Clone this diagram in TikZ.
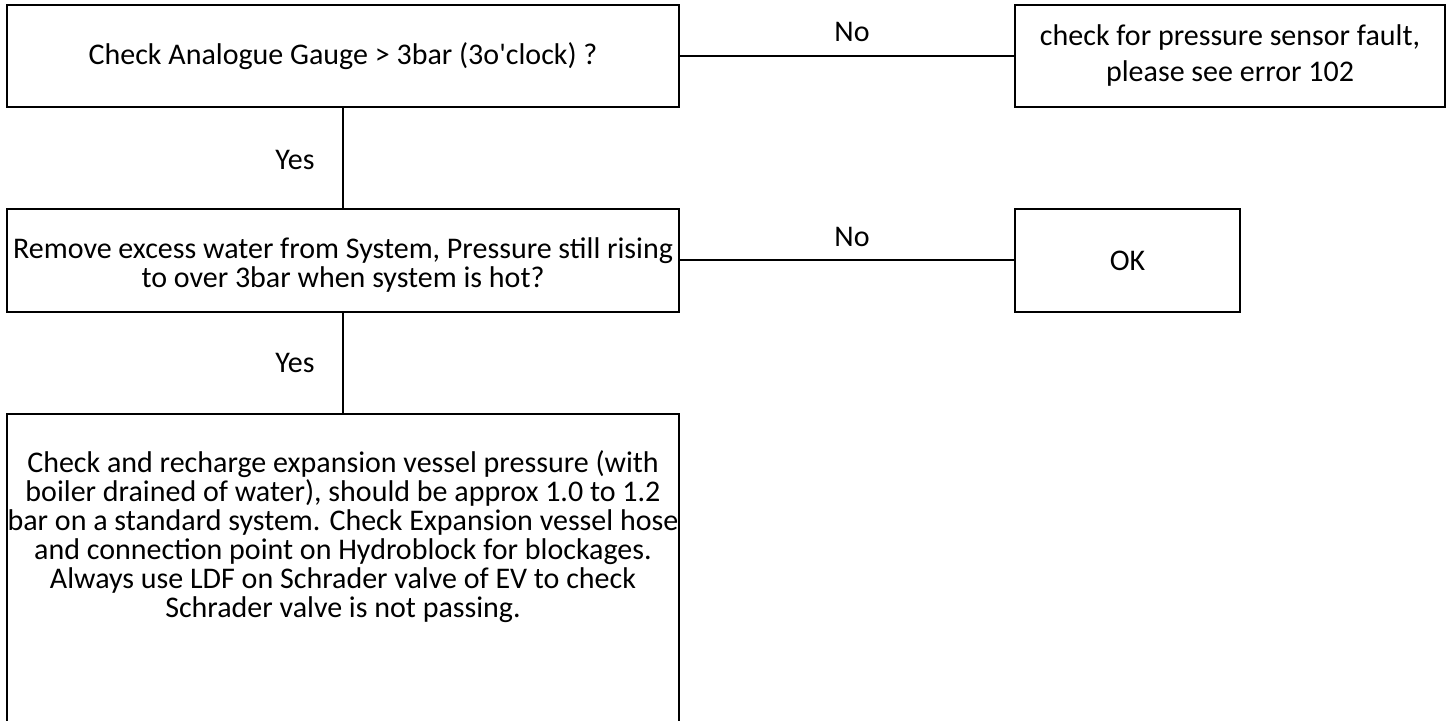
\documentclass[tikz,border=0pt]{standalone}
\usepackage{fontspec}
\setmainfont{Carlito}
\begin{document}
\begin{tikzpicture}[x=1pt,y=1pt,
  box/.style={draw=black, line width=2pt, inner sep=0pt, align=center, font=\fontsize{30}{29}\selectfont},
  conn/.style={draw=black, line width=2pt},
  lbl/.style={font=\fontsize{30}{29}\selectfont, inner sep=0pt, align=center}]
\useasboundingbox (0,0) rectangle (1447,720);
\node[box, minimum width=672, minimum height=102] (A) at (343,664) {Check Analogue Gauge > 3bar (3o\textquotesingle clock) ?};
\node[box, minimum width=430, minimum height=102, font=\fontsize{30}{36}\selectfont] (B) at (1230,664) {check for pressure sensor fault,\\please see error 102};
\node[box, minimum width=672, minimum height=103] (C) at (343,459.5) {\rule{0pt}{30pt}Remove excess water from System, Pressure still rising\\to over 3bar when system is hot?};
\node[box, minimum width=225, minimum height=103] (D) at (1127.5,459.5) {OK};
\node[box, minimum width=672, minimum height=320, anchor=north] (E) at (343,307) {};
\node[lbl] (Et) at (343,183) {Check and recharge expansion vessel pressure (with\\boiler drained of water), should be approx 1.0 to 1.2\\bar on a standard system. Check Expansion vessel hose\\and connection point on Hydroblock for blockages.\\Always use LDF on Schrader valve of EV to check\\Schrader valve is not passing.};
\draw[conn] (A.east) -- (B.west);
\draw[conn] (C.east) -- (D.west);
\draw[conn] (A.south) -- (C.north);
\draw[conn] (C.south) -- (E.north);
\node[lbl] (n1) at (852,688) {No};
\node[lbl] (n2) at (852,483) {No};
\node[lbl] (y1) at (295,560) {Yes};
\node[lbl] (y2) at (295,357) {Yes};
\end{tikzpicture}
\end{document}
